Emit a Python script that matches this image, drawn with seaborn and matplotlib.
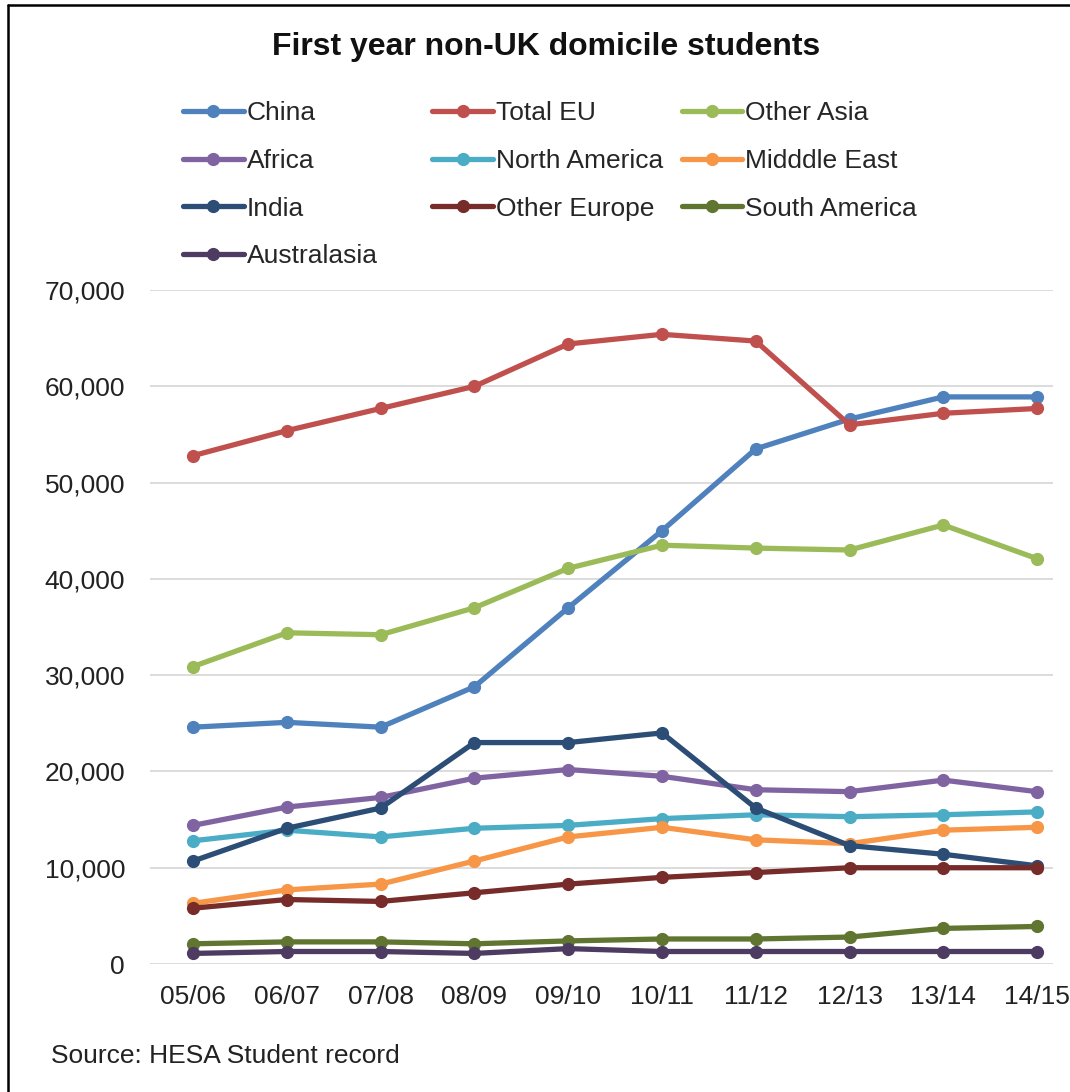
import matplotlib
matplotlib.use('Agg')
import matplotlib.pyplot as plt
from matplotlib.lines import Line2D
from matplotlib.ticker import StrMethodFormatter
import seaborn as sns

# Data
years = ['05/06', '06/07', '07/08', '08/09', '09/10', '10/11', '11/12', '12/13', '13/14', '14/15']
china = [24600, 25100, 24600, 28800, 37000, 45000, 53500, 56600, 58900, 58900]
total_eu = [52800, 55400, 57700, 60000, 64400, 65400, 64700, 56000, 57200, 57700]
other_asia = [30900, 34400, 34200, 37000, 41100, 43500, 43200, 43000, 45600, 42100]
africa = [14400, 16300, 17300, 19300, 20200, 19500, 18100, 17900, 19100, 17900]
north_america = [12800, 13900, 13200, 14100, 14400, 15100, 15500, 15300, 15500, 15800]
middle_east = [6300, 7700, 8300, 10700, 13200, 14200, 12900, 12500, 13900, 14200]
india = [10700, 14100, 16200, 23000, 23000, 24000, 16200, 12300, 11400, 10200]
other_europe = [5800, 6700, 6500, 7400, 8300, 9000, 9500, 10000, 10000, 10000]
south_america = [2100, 2300, 2300, 2100, 2400, 2600, 2600, 2800, 3700, 3900]
australasia = [1100, 1300, 1300, 1100, 1600, 1300, 1300, 1300, 1300, 1300]

series = [
    ('China', china, '#4F81BD'),
    ('Total EU', total_eu, '#C0504D'),
    ('Other Asia', other_asia, '#9BBB59'),
    ('Africa', africa, '#8064A2'),
    ('North America', north_america, '#4BACC6'),
    ('Midddle East', middle_east, '#F79646'),
    ('India', india, '#2C4D75'),
    ('Other Europe', other_europe, '#772C2A'),
    ('South America', south_america, '#5F7530'),
    ('Australasia', australasia, '#4D3B62'),
]

sns.set_style("white")
plt.rcParams['font.family'] = ['Liberation Sans', 'DejaVu Sans']

fig = plt.figure(figsize=(10.7, 10.92), dpi=100)
ax = fig.add_axes([0.1402, 0.1172, 0.8439, 0.6172])

for name, vals, col in series:
    sns.lineplot(x=years, y=vals, color=col, marker='o', markersize=9.5,
                 markeredgewidth=0, linewidth=3.8, label=name, ax=ax, sort=False)
h, l = ax.get_legend_handles_labels()
handles = dict(zip(l, h))

ax.set_xlim(-0.46, 9.17)
ax.set_ylim(0, 70000)
ax.set_yticks(range(0, 70001, 10000))
ax.yaxis.set_major_formatter(StrMethodFormatter('{x:,.0f}'))
ax.grid(axis='y', color='#D9D9D9', linewidth=1.3)
ax.grid(axis='x', visible=False)
ax.set_axisbelow(True)
for s in ax.spines.values():
    s.set_visible(False)
ax.tick_params(axis='y', length=0, pad=18, labelsize=19, labelcolor='#222222')
ax.tick_params(axis='x', length=0, pad=15, labelsize=19, labelcolor='#222222')
ax.set_xlabel('')
ax.set_ylabel('')

# Legend laid out in three columns like the original
columns = [
    (['China', 'Africa', 'India', 'Australasia'], 0.171),
    (['Total EU', 'North America', 'Other Europe'], 0.404),
    (['Other Asia', 'Midddle East', 'South America'], 0.637),
]
legends = []
for names, x0 in columns:
    leg = ax.legend([handles[n] for n in names], names, loc='upper left',
                    bbox_to_anchor=(x0, 0.9074), bbox_transform=fig.transFigure,
                    frameon=False, fontsize=19, handlelength=2.3, handletextpad=0.12,
                    labelspacing=0.9, borderpad=0, borderaxespad=0)
    legends.append(leg)
for leg in legends[:-1]:
    ax.add_artist(leg)

fig.text(0.51, 0.957, 'First year non-UK domicile students', ha='center', va='center',
         fontsize=23, fontweight='bold', color='#111111')
fig.text(0.048, 0.033, 'Source: HESA Student record', ha='left', va='center',
         fontsize=19, color='#222222')

# Frame edges visible in the cropped reference
fig.add_artist(Line2D([0.0075, 0.0075], [0, 0.9954], color='black', linewidth=1.8,
                      transform=fig.transFigure))
fig.add_artist(Line2D([0.0075, 1.0], [0.9954, 0.9954], color='black', linewidth=1.8,
                      transform=fig.transFigure))

plt.savefig('out.png', dpi=100)
